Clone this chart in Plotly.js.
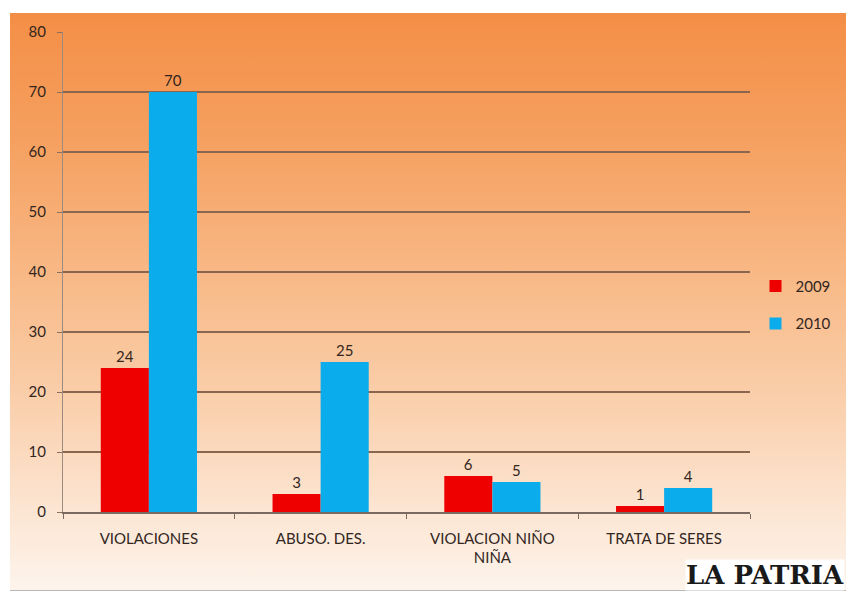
<!DOCTYPE html>
<html>
<head>
<meta charset="utf-8">
<script src="https://cdn.plot.ly/plotly-3.0.1.min.js"></script>
<style>
  html, body { margin: 0; padding: 0; background: #ffffff; }
  #wrap { position: relative; width: 848px; height: 593px; overflow: hidden; }
  #bg { position: absolute; left: 10px; top: 13px; width: 836px; height: 577px;
        background: linear-gradient(to bottom, #f48e46 0%, #f5a060 22%, #f8b885 45%, #fad0ad 68%, #fce5d2 86%, #fdf4ec 100%);
        border-bottom: 1px solid #b8b8b8; }
  #chart { position: absolute; left: 0; top: 0; width: 848px; height: 593px; }
</style>
</head>
<body>
<div id="wrap">
  <div id="bg"></div>
  <div id="chart"></div>
</div>
<script>
const categories = ["VIOLACIONES", "ABUSO. DES.", "VIOLACION NIÑO<br>NIÑA", "TRATA DE SERES"];
const values2009 = [24, 3, 6, 1];
const values2010 = [70, 25, 5, 4];
const seriesNames = ["2009", "2010"];
const yTicks = [0, 10, 20, 30, 40, 50, 60, 70, 80];

const FONT = "Lato, 'Open Sans', sans-serif";
const textColor = "#33261e";

const traces = [
  {
    type: "bar", name: seriesNames[0], legendgroup: "a",
    x: categories, y: values2009,
    marker: { color: "#ee0000" },
    text: values2009.map(String), textposition: "outside",
    textfont: { family: FONT, size: 15, color: textColor },
    cliponaxis: false, hoverinfo: "none"
  },
  {
    type: "bar", name: seriesNames[1], legendgroup: "b",
    x: categories, y: values2010,
    marker: { color: "#0aaceb" },
    text: values2010.map(String), textposition: "outside",
    textfont: { family: FONT, size: 15, color: textColor },
    cliponaxis: false, hoverinfo: "none"
  }
];

const layout = {
  width: 848, height: 593,
  paper_bgcolor: "rgba(0,0,0,0)",
  plot_bgcolor: "rgba(0,0,0,0)",
  margin: { l: 63, r: 96, t: 32, b: 81 },
  font: { family: FONT, size: 15, color: textColor },
  barmode: "group",
  bargap: 0.44,
  bargroupgap: 0,
  showlegend: true,
  legend: {
    x: 1.008, xanchor: "left", y: 0.432, yanchor: "middle",
    bgcolor: "rgba(0,0,0,0)",
    font: { family: FONT, size: 15, color: textColor },
    tracegroupgap: 15,
    itemwidth: 30
  },
  xaxis: {
    type: "category",
    showline: true, linecolor: "#7a6a60", linewidth: 1.5,
    ticks: "outside", tickson: "boundaries", ticklen: 5, tickcolor: "#7a6a60",
    ticklabelstandoff: 12,
    tickfont: { family: FONT, size: 15, color: textColor },
    showgrid: false, zeroline: false
  },
  yaxis: {
    range: [0, 80],
    tickvals: yTicks,
    showline: true, linecolor: "#9a8a80", linewidth: 1,
    ticks: "outside", ticklen: 5, tickcolor: "#8a7060",
    ticklabelstandoff: 8,
    tickfont: { family: FONT, size: 15, color: textColor },
    showgrid: true, gridcolor: "#8a6650", gridwidth: 1.5,
    zeroline: false
  },
  annotations: [
    {
      text: "<b>LA PATRIA</b>",
      xref: "paper", yref: "paper",
      x: 1.139, xanchor: "right",
      y: -0.131, yanchor: "middle",
      showarrow: false,
      font: { family: "DejaVu Serif", size: 26, color: "#1a1a1a" },
      bgcolor: "#ffffff", borderpad: 0
    }
  ]
};

Plotly.newPlot("chart", traces, layout, { displayModeBar: false, staticPlot: true });
</script>
</body>
</html>
